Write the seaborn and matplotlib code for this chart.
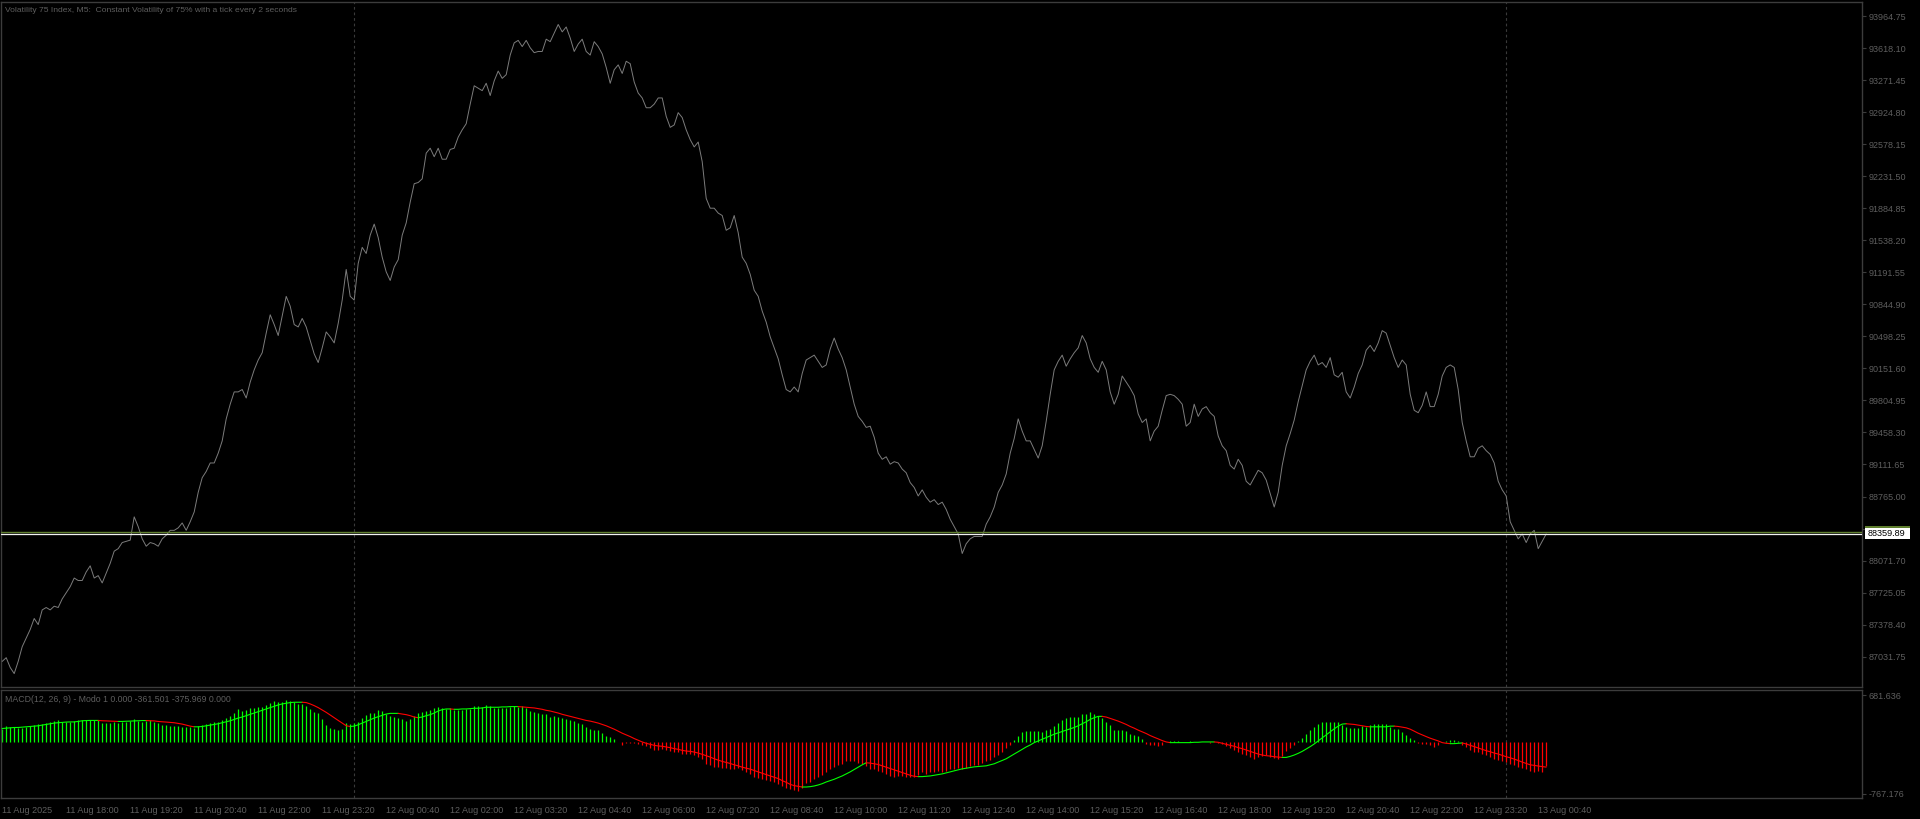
import numpy as np
import pandas as pd
import matplotlib
matplotlib.use("Agg")
import matplotlib.pyplot as plt
from matplotlib.patches import Rectangle
import seaborn as sns

# M5 closes, one per bar from 11 Aug 16:40 to 13 Aug 00:50
close = [
    86981, 87021, 86915, 86849, 86981, 87140, 87233, 87326, 87445, 87379,
    87538, 87564, 87538, 87578, 87564, 87657, 87724, 87790, 87883, 87856,
    87856, 87949, 88015, 87883, 87909, 87830, 87936, 88042, 88174, 88201,
    88267, 88280, 88293, 88545, 88439, 88307, 88227, 88267, 88254, 88227,
    88307, 88346, 88399, 88399, 88426, 88479, 88399, 88492, 88598, 88810,
    88969, 89036, 89128, 89128, 89234, 89367, 89605, 89764, 89897, 89897,
    89923, 89831, 90003, 90136, 90242, 90321, 90533, 90732, 90626, 90507,
    90719, 90931, 90825, 90626, 90600, 90692, 90600, 90454, 90308, 90215,
    90374, 90546, 90493, 90427, 90639, 90891, 91222, 90931, 90891, 91288,
    91461, 91395, 91593, 91713, 91567, 91355, 91196, 91103, 91249, 91328,
    91593, 91726, 91951, 92150, 92163, 92203, 92481, 92534, 92442, 92534,
    92415, 92415, 92521, 92534, 92654, 92733, 92799, 93011, 93210, 93184,
    93157, 93237, 93104, 93263, 93369, 93290, 93330, 93542, 93674, 93701,
    93634, 93701, 93621, 93568, 93581, 93581, 93714, 93687, 93780, 93873,
    93793, 93846, 93727, 93581, 93661, 93714, 93581, 93542, 93687, 93634,
    93555, 93409, 93237, 93383, 93436, 93343, 93475, 93449, 93250, 93131,
    93078, 92972, 92972, 93011, 93078, 93078, 92879, 92760, 92786, 92919,
    92866, 92733, 92627, 92548, 92601, 92389, 91991, 91885, 91885, 91832,
    91806, 91646, 91673, 91806, 91620, 91355, 91288, 91169, 90997, 90931,
    90772, 90652, 90493, 90374, 90255, 90082, 89923, 89897, 89950, 89897,
    90096, 90242, 90268, 90295, 90228, 90162, 90189, 90361, 90480, 90361,
    90268, 90136, 89950, 89764, 89632, 89579, 89513, 89526, 89407, 89234,
    89168, 89195, 89115, 89142, 89128, 89062, 89022, 88916, 88863, 88771,
    88837, 88757, 88704, 88731, 88678, 88704, 88625, 88519, 88439, 88360,
    88148, 88254, 88307, 88333, 88333, 88333, 88466, 88545, 88651, 88810,
    88890, 89009, 89234, 89393, 89605, 89473, 89367, 89367, 89274, 89181,
    89314, 89579, 89871, 90136, 90228, 90295, 90175, 90255, 90321, 90374,
    90507, 90427, 90255, 90162, 90109, 90228, 90136, 89897, 89764, 89871,
    90069, 90003, 89937, 89857, 89658, 89566, 89605, 89367, 89473, 89526,
    89698, 89857, 89871, 89857, 89817, 89764, 89526, 89566, 89764, 89632,
    89712, 89738, 89672, 89632, 89420, 89314, 89261, 89102, 89062, 89168,
    89102, 88930, 88890, 88969, 89049, 89022, 88943, 88797, 88651, 88810,
    89102, 89314, 89446, 89592, 89791, 89963, 90136, 90228, 90295, 90189,
    90215, 90162, 90268, 90082, 90056, 90109, 89897, 89831, 89950, 90096,
    90189, 90348, 90401, 90334, 90427, 90560, 90533, 90401, 90268, 90162,
    90242, 90189, 89871, 89698, 89672, 89751, 89897, 89738, 89738, 89871,
    90069, 90162, 90189, 90162, 89923, 89566, 89367, 89195, 89195, 89287,
    89314, 89261, 89221, 89128, 88930, 88837, 88771, 88492, 88399, 88307,
    88360, 88267, 88360, 88399, 88201, 88280, 88359.89,
]

# MACD main (histogram) and signal, same bars
macd_main = [
    193, 228, 208, 208, 203, 203, 218, 228, 238, 253,
    263, 273, 288, 307, 317, 292, 288, 292, 302, 312,
    312, 312, 322, 317, 322, 273, 268, 273, 283, 268,
    288, 292, 302, 327, 302, 288, 307, 312, 283, 273,
    248, 243, 228, 223, 223, 218, 213, 208, 203, 233,
    248, 263, 278, 283, 292, 312, 342, 382, 416, 476,
    451, 466, 491, 501, 516, 511, 540, 570, 600, 590,
    590, 620, 600, 580, 560, 550, 530, 481, 441, 416,
    332, 243, 203, 193, 173, 183, 268, 253, 268, 292,
    342, 392, 416, 426, 466, 451, 411, 382, 357, 342,
    327, 302, 327, 372, 416, 436, 446, 461, 491, 506,
    501, 486, 491, 471, 461, 466, 476, 486, 520, 525,
    516, 545, 525, 496, 491, 501, 501, 511, 520, 511,
    520, 491, 456, 431, 416, 402, 402, 362, 377, 367,
    352, 337, 322, 302, 273, 258, 208, 183, 173, 164,
    134, 89, 69, 35, -10, -45, -25, -20, -15, -30,
    -45, -69, -89, -129, -129, -104, -124, -139, -154, -154,
    -178, -178, -178, -203, -228, -253, -327, -352, -377, -377,
    -392, -392, -402, -402, -392, -416, -441, -476, -525, -540,
    -550, -560, -575, -600, -625, -649, -689, -699, -709, -724,
    -689, -610, -600, -550, -525, -491, -441, -402, -367, -352,
    -327, -292, -292, -292, -312, -327, -362, -402, -402, -426,
    -451, -476, -501, -525, -501, -511, -525, -525, -525, -491,
    -451, -476, -451, -441, -426, -441, -426, -411, -402, -392,
    -402, -382, -362, -342, -342, -312, -292, -278, -228, -193,
    -154, -94, -45, 20, 84, 144, 159, 159, 154, 154,
    144, 164, 193, 233, 268, 317, 352, 367, 367, 367,
    402, 406, 431, 402, 382, 342, 292, 243, 169, 169,
    169, 154, 119, 94, 79, 45, -30, -55, -45, -64,
    -55, -5, 5, 10, 15, 0, 0, 15, 0, 0,
    -10, -5, -20, -10, -15, -35, -64, -94, -129, -154,
    -178, -203, -228, -253, -228, -218, -203, -228, -243, -253,
    -213, -144, -94, -55, 5, 55, 119, 169, 218, 253,
    283, 283, 283, 283, 283, 243, 218, 203, 203, 203,
    233, 218, 243, 253, 263, 263, 253, 218, 193, 183,
    144, 94, 55, 20, -15, -30, -30, -55, -79, -45,
    -5, 5, 20, 30, 5, -55, -79, -129, -154, -154,
    -178, -203, -228, -253, -278, -292, -302, -327, -352, -377,
    -392, -402, -426, -441, -426, -451, -361.501,
]

macd_signal = [
    193, 198, 203, 208, 208, 213, 218, 223, 228, 233,
    243, 253, 263, 273, 278, 283, 288, 290, 290, 297,
    307, 310, 312, 312, 312, 307, 305, 302, 300, 297,
    297, 300, 302, 305, 307, 310, 310, 307, 305, 297,
    292, 288, 283, 278, 268, 258, 243, 228, 218, 218,
    223, 233, 243, 253, 263, 278, 292, 307, 327, 347,
    362, 382, 402, 421, 441, 461, 481, 501, 520, 540,
    555, 565, 575, 580, 580, 580, 575, 555, 530, 501,
    466, 431, 392, 352, 312, 273, 233, 223, 228, 248,
    273, 297, 322, 347, 367, 387, 406, 416, 416, 416,
    406, 397, 382, 362, 352, 362, 382, 397, 421, 451,
    471, 481, 481, 476, 476, 481, 481, 486, 491, 491,
    496, 506, 506, 506, 506, 511, 511, 516, 516, 516,
    511, 506, 501, 496, 486, 476, 461, 451, 436, 421,
    402, 387, 372, 357, 342, 327, 312, 302, 288, 273,
    253, 233, 208, 183, 154, 124, 99, 74, 45, 20,
    -5, -25, -40, -55, -64, -69, -79, -89, -104, -114,
    -129, -139, -144, -154, -169, -188, -208, -228, -253, -273,
    -292, -307, -322, -342, -357, -377, -392, -406, -426, -446,
    -466, -486, -506, -525, -545, -575, -600, -630, -649, -659,
    -669, -669, -664, -654, -639, -620, -595, -575, -555, -530,
    -506, -476, -446, -411, -377, -342, -312, -317, -327, -337,
    -357, -377, -397, -416, -436, -456, -476, -496, -511, -516,
    -516, -511, -506, -496, -486, -476, -461, -446, -431, -416,
    -402, -392, -382, -372, -367, -362, -357, -342, -327, -302,
    -278, -253, -218, -183, -149, -114, -79, -50, -15, 10,
    35, 59, 84, 109, 129, 149, 169, 188, 208, 233,
    263, 292, 327, 352, 372, 372, 362, 342, 322, 302,
    278, 253, 223, 198, 169, 144, 119, 89, 64, 40,
    15, -5, -15, -15, -15, -15, -15, -15, -10, -10,
    -5, -5, -5, -5, -10, -25, -40, -55, -69, -89,
    -104, -124, -144, -164, -183, -198, -208, -213, -223, -228,
    -233, -233, -218, -198, -173, -144, -109, -74, -35, 10,
    55, 99, 144, 188, 228, 258, 263, 258, 253, 243,
    233, 223, 218, 218, 218, 218, 218, 228, 228, 223,
    213, 203, 183, 154, 124, 99, 74, 50, 30, 10,
    -15, -25, -30, -30, -25, -20, -35, -55, -74, -94,
    -114, -134, -149, -169, -183, -203, -223, -238, -258, -278,
    -302, -322, -342, -350, -360, -368, -375.969,
]

price_ticks = [87031.75, 87378.40, 87725.05, 88071.70, 88418.35, 88765.00,
               89111.65, 89458.30, 89804.95, 90151.60, 90498.25, 90844.90,
               91191.55, 91538.20, 91884.85, 92231.50, 92578.15, 92924.80,
               93271.45, 93618.10, 93964.75]
macd_ticks = [-767.176, 681.636]
time_labels = ["11 Aug 2025", "11 Aug 18:00", "11 Aug 19:20", "11 Aug 20:40",
               "11 Aug 22:00", "11 Aug 23:20", "12 Aug 00:40", "12 Aug 02:00",
               "12 Aug 03:20", "12 Aug 04:40", "12 Aug 06:00", "12 Aug 07:20",
               "12 Aug 08:40", "12 Aug 10:00", "12 Aug 11:20", "12 Aug 12:40",
               "12 Aug 14:00", "12 Aug 15:20", "12 Aug 16:40", "12 Aug 18:00",
               "12 Aug 19:20", "12 Aug 20:40", "12 Aug 22:00", "12 Aug 23:20",
               "13 Aug 00:40"]
bid = 88359.89
ask = 88381.50
title = "Volatility 75 Index, M5:  Constant Volatility of 75% with a tick every 2 seconds"
macd_title = "MACD(12, 26, 9) - Modo 1 0.000 -361.501 -375.969 0.000"

BG = "#000000"
FG = "#3c3c3c"
TXT = "#5e5e5e"
GREEN = "#00ff00"
RED = "#ff0000"
ASK_COL = "#5f7f2e"

sns.set_style("dark")
plt.rcParams["font.family"] = ["Liberation Sans", "DejaVu Sans"]

times = pd.date_range("2025-08-11 16:40", periods=len(close), freq="5min")
df = pd.DataFrame({"bar": np.arange(len(close)), "time": times, "close": close,
                   "main": macd_main, "signal": macd_signal})

day_starts = df.index[(df["time"].dt.hour == 0) & (df["time"].dt.minute == 0)]
tick_pos = df.index[(df["time"] - df["time"].iloc[0]).dt.total_seconds() % 4800 == 0]

W, H = 1920, 819
fig = plt.figure(figsize=(W / 100, H / 100), dpi=100, facecolor=BG)
ax1 = fig.add_axes([1 / W, 1 - 687 / H, 1861 / W, 685 / H])
ax2 = fig.add_axes([1 / W, 1 - 798 / H, 1861 / W, 108 / H])

xmin, xmax = -0.3, 464.95
for ax in (ax1, ax2):
    ax.set_facecolor(BG)
    ax.set_xlim(xmin, xmax)
    for s in ax.spines.values():
        s.set_color(FG)
        s.set_linewidth(1)
    ax.grid(False)
    for d in day_starts:
        ax.axvline(d, color="#3a3a3a", lw=0.8, ls=(0, (2.5, 2.5)), zorder=0)

# price panel
sns.lineplot(data=df, x="bar", y="close", ax=ax1, color="#7c7c7c", lw=0.7,
             estimator=None, zorder=3)
ylo, yhi = 86703.8, 94116.3
ax1.set_ylim(ylo, yhi)
ax1.axhline(ask, color=ASK_COL, lw=1.0, zorder=4)
ax1.axhline(bid, color="#f2f2f2", lw=0.9, zorder=5)
ax1.set_xticks([])
ax1.yaxis.tick_right()
ax1.set_yticks(price_ticks)
ax1.set_yticklabels([f"{v:.2f}" for v in price_ticks])
ax1.tick_params(axis="y", colors=FG, labelcolor=TXT, labelsize=6.5,
                length=3, width=0.8, pad=1.5)
ax1.set_xlabel("")
ax1.set_ylabel("")
ax1.text(4 / 1861, 1 - 8 / 685, title, transform=ax1.transAxes, color=TXT,
         fontsize=6.1, ha="left", va="center")

# ask label peeking out above the bid label, both drawn over the scale
px = (yhi - ylo) / 685
ytr = ax1.get_yaxis_transform()
box_x, box_w = 1.0 + 3 / 1861, 45 / 1861
ax1.add_patch(Rectangle((box_x, ask - 5.5 * px), box_w, 11 * px, transform=ytr,
                        fc=ASK_COL, ec="none", clip_on=False, zorder=6))
ax1.add_patch(Rectangle((box_x, bid - 5.5 * px), box_w, 11 * px, transform=ytr,
                        fc="#ffffff", ec="none", clip_on=False, zorder=7))
ax1.text(box_x + 3 / 1861, bid, f"{bid:.2f}", transform=ytr, color="#000000",
         fontsize=6.6, ha="left", va="center", zorder=8, clip_on=False)

# MACD panel
colors = [GREEN if v >= 0 else RED for v in df["main"]]
ax2.vlines(df["bar"], 0, df["main"], colors=colors, lw=0.9, zorder=2)
sig = df["signal"].to_numpy()
seg_col = [GREEN if sig[i + 1] >= sig[i] else RED for i in range(len(sig) - 1)]
start = 0
for i in range(1, len(seg_col) + 1):
    if i == len(seg_col) or seg_col[i] != seg_col[start]:
        ax2.plot(df["bar"].iloc[start:i + 1], sig[start:i + 1],
                 color=seg_col[start], lw=0.8, zorder=3)
        start = i
ax2.set_ylim(-831.1, 760.4)
ax2.yaxis.tick_right()
ax2.set_yticks(macd_ticks)
ax2.set_yticklabels([f"{v:.3f}" for v in macd_ticks])
ax2.tick_params(axis="y", colors=FG, labelcolor=TXT, labelsize=6.5,
                length=3, width=0.8, pad=1.5)
ax2.set_xticks(tick_pos)
ax2.set_xticklabels(time_labels)
ax2.tick_params(axis="x", colors=FG, labelcolor=TXT, labelsize=6.5,
                length=4, width=0.8, pad=2)
for lbl in ax2.get_xticklabels():
    lbl.set_ha("left")
ax2.set_xlabel("")
ax2.set_ylabel("")
ax2.text(4 / 1861, 1 - 9 / 108, macd_title, transform=ax2.transAxes, color=TXT,
         fontsize=6.3, ha="left", va="center")

fig.savefig("out.png", dpi=100, facecolor=BG)
